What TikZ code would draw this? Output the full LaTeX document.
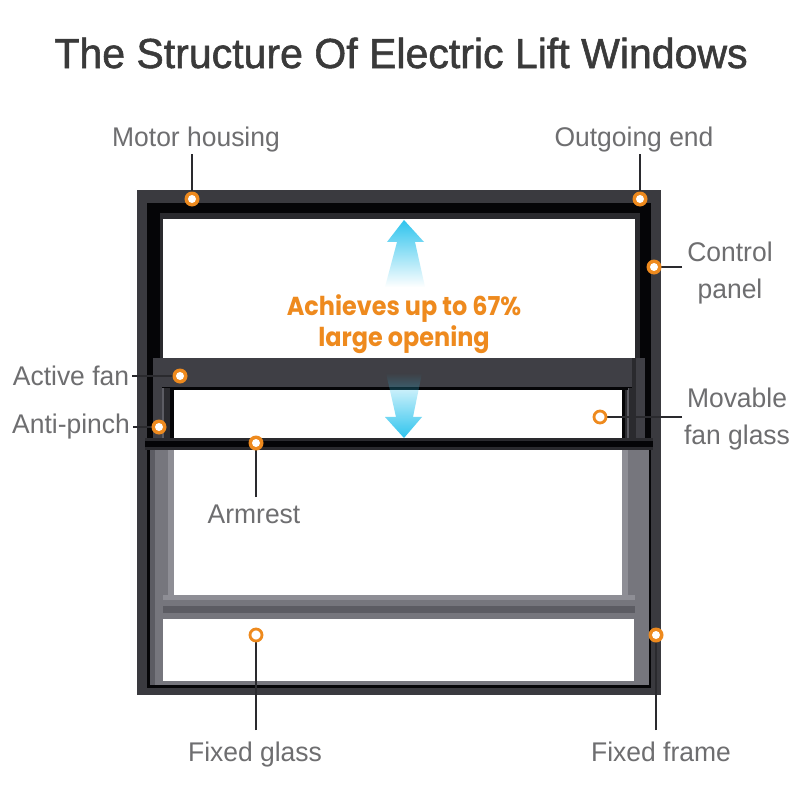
\documentclass[tikz,border=0pt]{standalone}
\usepackage{fontspec}
\setmainfont{Liberation Sans}
\newfontfamily\titlefont[FakeStretch=0.977]{Liberation Sans}
\newfontfamily\labelfont[FakeStretch=0.98]{Liberation Sans}
\newfontfamily\orangefont[FakeStretch=0.92]{Poppins}
\newcommand{\thicktext}[1]{\special{pdf:code 2 Tr 0.55 w}#1\special{pdf:code 0 Tr 1 w}}
\usetikzlibrary{fadings}
\definecolor{framec}{HTML}{3A3A3F}
\definecolor{blk}{HTML}{050507}
\definecolor{railc}{HTML}{3F3F45}
\definecolor{edgec}{HTML}{2A2A2E}
\definecolor{greyc}{HTML}{76767D}
\definecolor{greyd}{HTML}{5C5C63}
\definecolor{greyl}{HTML}{8E8E95}
\definecolor{orangec}{HTML}{EE8A1E}
\definecolor{textc}{HTML}{6E6E70}
\definecolor{titlec}{HTML}{3A3A3A}
\definecolor{skyc}{HTML}{2EC4EE}
\tikzset{
  x=1pt,y=-1pt,
  label text/.style={text=textc,font=\labelfont\fontsize{27}{37}\selectfont,inner sep=0pt,align=center},
  leader/.style={draw=edgec,line width=1.5pt},
  solid mark/.style={circle,fill=orangec,draw=none,minimum size=15pt,inner sep=0pt,path picture={\fill[white] (path picture bounding box.center) circle[radius=4pt];}},
  hollow mark/.style={circle,fill=white,draw=orangec,line width=2.8pt,minimum size=12pt,inner sep=0pt},
}
\begin{document}
\begin{tikzpicture}
\useasboundingbox (0,0) rectangle (800,800);
\fill[white] (0,0) rectangle (800,800);
% title
\node[text=titlec,font=\titlefont\fontsize{42}{48}\selectfont,inner sep=0pt] (title) at (401,53) {\thicktext{The Structure Of Electric Lift Windows}};
% frame
\fill[framec] (137,190) rectangle (661,695);
\fill[blk] (147,203) rectangle (651,688);
\fill[edgec] (160,213) rectangle (640,360);
\fill[white] (163,219) rectangle (635,358);
% lower part
\fill[greyc] (150,450) rectangle (649,685);
\fill[white] (174,450) rectangle (622,595);
\fill[greyl] (168,450) rectangle (174,595);
\fill[greyl] (622,450) rectangle (628,595);
\fill[greyl] (163,595) rectangle (635,600);
\fill[greyd] (163,606) rectangle (635,613);
\fill[white] (163,619) rectangle (634,681);
\fill[greyd] (150,450) rectangle (155,685);
% side tracks
\fill[blk] (147,358) rectangle (153,438);
\fill[railc] (153,358) rectangle (162,438);
\fill[greyd] (162,388) rectangle (164,438);
\fill[edgec] (164,388) rectangle (170,438);
\fill[blk] (170,388) rectangle (174,438);
\fill[blk] (622,388) rectangle (625,438);
\fill[edgec] (625,388) rectangle (627,438);
\fill[greyd] (627,388) rectangle (629,438);
\fill[edgec] (629,388) rectangle (636,438);
\fill[railc] (636,358) rectangle (645,438);
\fill[blk] (645,358) rectangle (650,438);
% sash
\fill[railc] (153,358) rectangle (632,387);
\fill[edgec] (632,358) rectangle (636,388);
\fill[blk] (170,387) rectangle (628,390);
\fill[white] (174,390) rectangle (622,438);
% armrest
\fill[edgec] (145,438) rectangle (653,450);
\fill[blk] (145,441) rectangle (653,447);
% arrows
\fill[skyc,path fading=south] (404,220) -- (424,242) -- (415,242) -- (425,287) -- (385,287) -- (397,242) -- (387,242) -- cycle;
\fill[skyc,path fading=north] (404,438) -- (422,417) -- (413,417) -- (422,373) -- (386,373) -- (396,417) -- (385,417) -- cycle;
% orange text
\node[text=orangec,font=\orangefont\bfseries\fontsize{26}{31}\selectfont,inner sep=0pt,align=center] (note) at (404,324) {Achieves up to 67\%\\large opening};
% labels
\node[label text] (lmotor) at (196,140) {Motor housing};
\node[label text] (lout) at (634,140) {Outgoing end};
\node[label text] (lctrl) at (730,273) {Control\\panel};
\node[label text] (lactive) at (71,376) {Active fan};
\node[label text] (lanti) at (71,427) {Anti-pinch};
\node[label text] (larm) at (254,514) {Armrest};
\node[label text] (lmov) at (737,419.5) {Movable\\fan glass};
\node[label text] (lglass) at (255,755) {Fixed glass};
\node[label text] (lframe) at (661,752) {Fixed frame};
% free ends
\coordinate (e1) at (192,154);
\coordinate (e2) at (640,154);
\coordinate (e3) at (682,267);
\coordinate (e4) at (132,376);
\coordinate (e5) at (133,427);
\coordinate (e6) at (256,497);
\coordinate (e7) at (656,730);
\coordinate (e8) at (682,417);
\coordinate (e9) at (256,730);
\coordinate (c1) at (192,199);
\coordinate (c2) at (640,199);
\coordinate (c3) at (654,267);
\coordinate (c4) at (180,376);
\coordinate (c5) at (159,427);
\coordinate (c6) at (256,443);
\coordinate (c7) at (656,635);
\coordinate (c8) at (600,417);
\coordinate (c9) at (256,635);
\draw[leader] (e1) -- (c1);
\draw[leader] (e2) -- (c2);
\draw[leader] (e3) -- (c3);
\draw[leader] (e4) -- (c4);
\draw[leader] (e5) -- (c5);
\draw[leader] (e6) -- (c6);
\draw[leader] (e7) -- (c7);
\draw[leader] (e8) -- (c8);
\draw[leader] (e9) -- (c9);
% markers
\node[solid mark] (m1) at (c1) {};
\node[solid mark] (m2) at (c2) {};
\node[solid mark] (m3) at (c3) {};
\node[solid mark] (m4) at (c4) {};
\node[solid mark] (m5) at (c5) {};
\node[solid mark] (m6) at (c6) {};
\node[solid mark] (m7) at (c7) {};
\node[hollow mark] (m8) at (c8) {};
\node[hollow mark] (m9) at (c9) {};
\end{tikzpicture}
\end{document}
